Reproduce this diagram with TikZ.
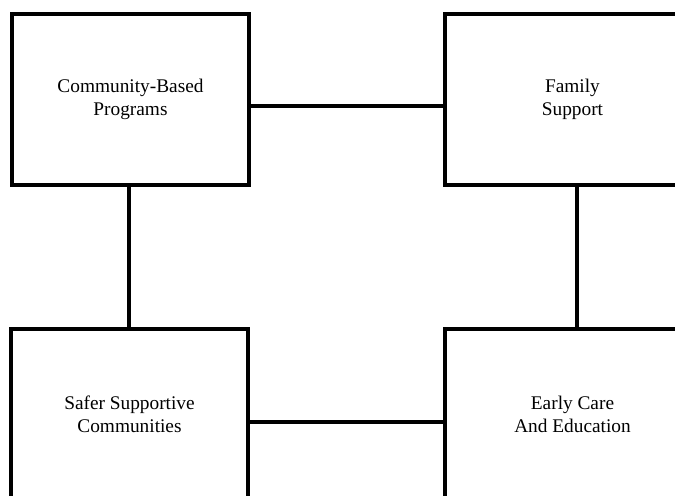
\documentclass[tikz,border=0pt]{standalone}
\usepackage{fontspec}
\setmainfont{Liberation Serif}
\usepackage{tikz}
\usetikzlibrary{positioning}

\begin{document}
\begin{tikzpicture}[x=0.02cm, y=-0.02cm,
	box/.style={draw, line width=1.9pt, minimum width=4.74cm, minimum height=3.42cm,
		inner sep=0pt, align=center, font=\fontsize{11}{13}\selectfont},
	wide/.style={box, minimum width=5.1cm},
	link/.style={line width=2.8pt}]
			\clip (0,0) rectangle (675,496);
			\fill[white] (0,0) rectangle (675,496);
			\node[box] (community) at (130.5,99.5) {Community-Based\\Programs};
			\node[wide] (family) at (572.5,99.5) {Family\\Support};
			\node[box] (safer) at (129.5,414.5) {Safer Supportive\\Communities};
			\node[wide] (early) at (572.5,414.5) {Early Care\\And Education};
			\draw[link] (community.east |- 0,106) -- (family.west |- 0,106);
			\draw[link] (safer.east |- 0,422) -- (early.west |- 0,422);
			\draw[link] (community.south -| 129,0) -- (safer.north -| 129,0);
			\draw[link] (family.south -| 577,0) -- (early.north -| 577,0);
		\end{tikzpicture}
\end{document}
